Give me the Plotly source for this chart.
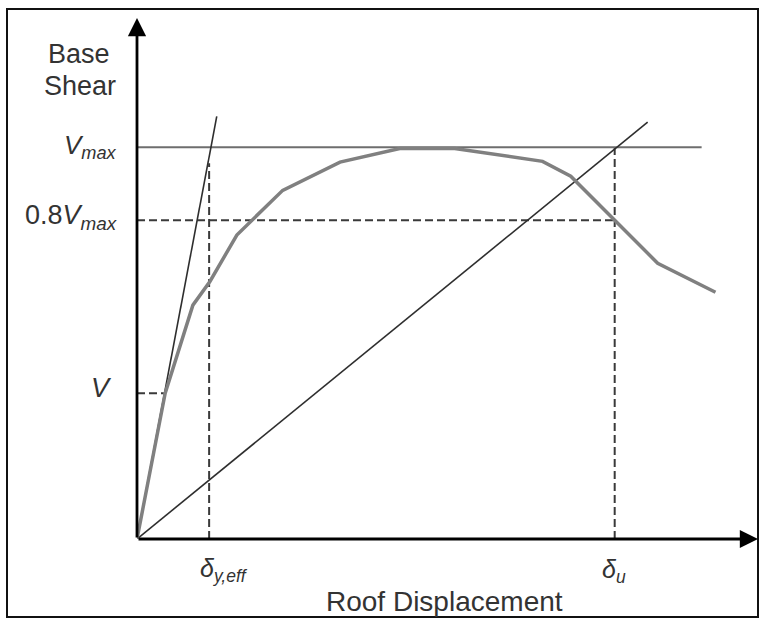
import plotly.graph_objects as go

# ---- data (schematic units: V_max = 100, delta_u = 100) ----
curve_x = [0, 5.9, 11.7, 15.3, 20.9, 30.5, 42.5, 55.0, 66.5, 84.9, 90.8, 100.0, 109.0, 121.1]
curve_y = [0, 37.2, 59.7, 65.8, 77.6, 89.0, 96.2, 99.7, 99.7, 96.4, 92.6, 81.4, 70.4, 63.0]

steep_x = [0, 16.7]
steep_y = [0, 107.9]

secant_x = [0, 106.9]
secant_y = [0, 106.4]

V_MAX = 100.0
V_08 = 81.4
V_Y = 37.2
VMAX_LINE_END = 118.2
D_YEFF = 15.1
D_YEFF_TOP = 95.9
D_U = 100.0
V_DASH_END = 5.6

X_TIP = 130
Y_TIP = 133

W, H = 763, 622
ML, MR, MT, MB = 137, 5, 18, 83
PW = W - ML - MR
PH = H - MT - MB

def px2paper_x(px):
    return (px - ML) / PW

def px2paper_y(py):
    return (H - MB - py) / PH

fig = go.Figure()

dash_style = dict(color="#3a3a3a", width=2, dash="8px,4px")

# dashed guides
fig.add_trace(go.Scatter(x=[0, D_U], y=[V_08, V_08], mode="lines", line=dash_style))
fig.add_trace(go.Scatter(x=[D_U, D_U], y=[0, V_MAX], mode="lines", line=dash_style))
fig.add_trace(go.Scatter(x=[D_YEFF, D_YEFF], y=[0, D_YEFF_TOP], mode="lines", line=dash_style))
fig.add_trace(go.Scatter(x=[0, V_DASH_END], y=[V_Y, V_Y], mode="lines", line=dash_style))

# Vmax line
fig.add_trace(go.Scatter(x=[0, VMAX_LINE_END], y=[V_MAX, V_MAX], mode="lines",
                         line=dict(color="#6e6e6e", width=2)))
# straight lines
fig.add_trace(go.Scatter(x=steep_x, y=steep_y, mode="lines", line=dict(color="#2e2e2e", width=1.6)))
fig.add_trace(go.Scatter(x=secant_x, y=secant_y, mode="lines", line=dict(color="#2e2e2e", width=1.6)))
# pushover curve
fig.add_trace(go.Scatter(x=curve_x, y=curve_y, mode="lines",
                         line=dict(color="#808080", width=3.5)))

# axis arrows
for (tx, ty) in [(X_TIP, 0), (0, Y_TIP)]:
    fig.add_annotation(x=tx, y=ty, ax=0, ay=0, xref="x", yref="y", axref="x", ayref="y",
                       showarrow=True, arrowhead=2, arrowsize=1.3, arrowwidth=2.8,
                       arrowcolor="#000000", text="", standoff=0, startstandoff=0)

FONT = "Liberation Sans, Arial, sans-serif"
TXT = "#333333"

def lab(text, x, y, xref, yref, size, xanchor="center", yanchor="middle"):
    fig.add_annotation(text=text, x=x, y=y, xref=xref, yref=yref, showarrow=False,
                       xanchor=xanchor, yanchor=yanchor,
                       font=dict(family=FONT, size=size, color=TXT))

lab("Base", px2paper_x(79), px2paper_y(54), "paper", "paper", 27)
lab("Shear", px2paper_x(80), px2paper_y(86), "paper", "paper", 27)
lab("<i>V</i><sub><i>max</i></sub>", px2paper_x(119), px2paper_y(146), "paper", "paper", 26, xanchor="right")
lab("0.8<i>V</i><sub><i>max</i></sub>", px2paper_x(119), px2paper_y(217), "paper", "paper", 27, xanchor="right")
lab("<i>V</i>", px2paper_x(114), px2paper_y(388), "paper", "paper", 27, xanchor="right")
lab("<i>δ</i><sub><i>y,eff</i></sub>", px2paper_x(224), px2paper_y(570), "paper", "paper", 25)
lab("<i>δ</i><sub><i>u</i></sub>", px2paper_x(614), px2paper_y(571), "paper", "paper", 25)
lab("Roof Displacement", px2paper_x(444), px2paper_y(601), "paper", "paper", 28)

# outer frame
fig.add_shape(type="rect", xref="paper", yref="paper",
              x0=px2paper_x(7), x1=px2paper_x(758), y0=px2paper_y(617), y1=px2paper_y(9),
              line=dict(color="#111111", width=2), layer="below")

fig.update_layout(
    width=W, height=H,
    margin=dict(l=ML, r=MR, t=MT, b=MB),
    paper_bgcolor="white", plot_bgcolor="white",
    showlegend=False,
    xaxis=dict(range=[0, X_TIP], visible=False),
    yaxis=dict(range=[0, Y_TIP], visible=False),
)

fig.write_html("out.html")
